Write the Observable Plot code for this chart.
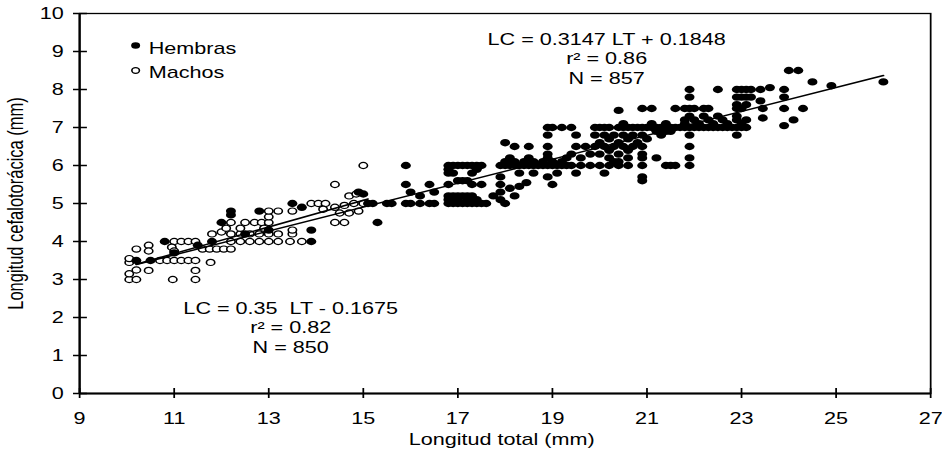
<!DOCTYPE html>
<html><head><meta charset="utf-8">
<script src="https://cdn.jsdelivr.net/npm/d3@7"></script>
<script src="https://cdn.jsdelivr.net/npm/@observablehq/plot@0.6"></script>
<style>
html,body{margin:0;padding:0;background:#fff;}
#chart{width:942px;height:451px;overflow:hidden;}
svg text{white-space:pre;}
</style>
</head><body><div id="chart"></div>
<script>
const xTicks = [9, 11, 13, 15, 17, 19, 21, 23, 25, 27];
const yTicks = [0, 1, 2, 3, 4, 5, 6, 7, 8, 9, 10];

const hembras = [
[10.2,3.5],[10.5,3.5],[10.8,4.0],[11.0,3.7],[11.5,3.9],[11.8,4.0],[12.0,4.5],[12.2,4.7],[12.2,4.8],[12.5,4.2],[12.8,4.8],[13.0,4.3],[13.5,5.0],[13.7,4.9],[13.9,4.3],[13.9,4.0],[14.9,5.3],[15.0,5.25],[15.1,5.0],[15.2,5.0],
[15.3,4.5],[15.5,5.0],[15.6,5.0],[15.9,5.0],[16.0,5.0],[16.2,5.0],[16.4,5.0],[16.5,5.0],[15.9,5.5],[16.4,5.5],[16.0,5.3],[16.5,5.3],[15.9,6.0],[16.2,5.2],
[16.8,5.0],[16.9,5.0],[17.0,5.0],[17.1,5.0],[17.2,5.0],[17.3,5.0],[17.4,5.0],[17.5,5.0],
[16.8,5.1],[17.0,5.1],[17.2,5.1],[17.4,5.1],
[16.8,5.2],[16.9,5.2],[17.0,5.2],[17.1,5.2],[17.2,5.2],[17.3,5.2],
[16.8,5.5],[17.3,5.5],[17.5,5.5],[17.0,5.6],[17.1,5.6],[17.2,5.6],
[16.8,5.8],[16.9,5.8],[17.3,5.8],[16.8,5.9],[17.4,5.9],
[16.8,6.0],[16.9,6.0],[17.0,6.0],[17.1,6.0],[17.2,6.0],[17.3,6.0],[17.4,6.0],[17.5,6.0],
[17.6,5.0],[17.75,5.2],[17.9,5.1],[17.9,5.3],[17.9,5.5],[17.9,5.7],[18.1,5.4],[18.3,5.45],[18.45,5.55],[18.0,5.0],[18.2,5.2],
[17.9,6.0],[18.0,6.0],[18.1,6.0],[18.2,6.0],[18.3,6.0],[18.4,6.0],[18.5,6.0],[18.6,6.0],[18.7,6.0],[18.8,6.0],[18.9,6.0],[19.0,6.0],[19.1,6.0],[19.2,6.0],[19.3,6.0],[19.4,6.0],
[18.0,6.1],[18.2,6.1],[18.4,6.1],[18.6,6.1],[18.8,6.1],[19.0,6.1],[19.2,6.1],
[18.1,6.2],[18.5,6.2],[18.9,6.2],[19.3,6.2],
[18.3,5.8],[18.6,5.8],[19.1,5.8],[18.9,5.7],
[18.0,6.6],[18.2,6.5],[18.5,6.5],[18.9,7.0],[19.0,7.0],[19.2,7.0],[18.9,6.8],[18.9,6.5],[18.9,6.3],[19.4,7.0],[19.5,6.8],[19.5,6.5],[19.4,6.3],
[19.0,5.5],[19.5,5.8],
[19.9,7.0],[20.0,7.0],[20.1,7.0],[20.2,7.0],[20.4,7.0],[20.5,7.0],[20.6,7.0],[20.7,7.0],[20.8,7.0],[20.9,7.0],[21.0,7.0],[21.1,7.0],[21.2,7.0],[21.3,7.0],[21.4,7.0],[21.5,7.0],[21.6,7.0],[21.7,7.0],[21.8,7.0],[21.9,7.0],[22.0,7.0],[22.1,7.0],[22.2,7.0],[22.3,7.0],[22.4,7.0],[22.5,7.0],[22.6,7.0],[22.7,7.0],[22.8,7.0],[22.9,7.0],[23.0,7.0],[23.1,7.0],
[20.5,7.1],[21.1,7.1],[21.4,7.1],[21.8,7.1],[22.1,7.1],[22.4,7.1],[22.7,7.1],[23.0,7.1],
[21.8,7.2],[22.0,7.2],[22.3,7.2],[22.6,7.2],[22.9,7.2],[23.1,7.2],
[21.9,7.3],[22.2,7.3],[22.5,7.3],[22.9,7.3],
[20.9,7.5],[21.1,7.5],[21.6,7.5],[21.8,7.5],[21.9,7.5],[22.0,7.5],[22.2,7.5],[22.3,7.5],[22.9,7.5],[23.0,7.5],
[20.4,7.45],[22.9,7.6],[23.1,7.6],
[21.9,7.8],[22.9,7.8],[23.0,7.8],[23.1,7.8],[23.2,7.8],
[21.9,8.0],[22.5,8.0],[22.9,8.0],[23.0,8.0],[23.1,8.0],[23.2,8.0],[23.4,8.0],[23.6,8.05],[23.4,7.7],
[21.2,6.9],[21.4,6.9],[21.5,6.9],
[19.9,6.8],[20.1,6.8],[20.3,6.8],[20.5,6.8],[20.7,6.8],[20.9,6.8],[21.3,6.8],[21.9,6.8],[22.9,6.8],
[20.2,6.7],[20.6,6.7],[21.0,6.7],
[20.0,6.6],[20.4,6.6],[20.8,6.6],
[19.7,6.5],[19.9,6.5],[20.1,6.5],[20.3,6.5],[20.5,6.5],[20.7,6.5],[20.9,6.5],[21.9,6.5],
[20.2,6.4],[20.6,6.4],
[19.8,6.3],[20.0,6.3],[20.4,6.3],[20.9,6.3],
[19.6,6.2],[20.2,6.2],[20.6,6.2],[20.9,6.2],[21.2,6.2],[21.9,6.2],
[20.3,6.1],[20.4,6.1],
[19.6,6.0],[19.8,6.0],[20.0,6.0],[20.2,6.0],[20.4,6.0],[20.6,6.0],[20.9,6.0],[21.4,6.0],[21.5,6.0],[21.6,6.0],[21.9,6.0],
[20.1,5.8],[20.9,5.7],[20.9,5.6],
[23.9,8.0],[23.9,7.8],[24.0,8.5],[24.2,8.5],[24.5,8.2],[24.9,8.1],[26.0,8.2],[23.9,7.5],[24.3,7.5],[24.1,7.2],[23.9,7.05],[23.45,7.5],[23.45,7.25]
];

const machos = [
[10.05,3.0],[10.05,3.15],[10.2,3.0],[10.2,3.25],[10.46,3.24],[10.97,3.0],[11.45,3.24],[11.45,3.0],[11.77,3.45],
[10.05,3.45],[10.05,3.55],[10.7,3.5],[10.85,3.5],[11.0,3.5],[11.15,3.5],[11.3,3.5],[11.45,3.5],
[10.2,3.8],[10.46,3.9],[10.46,3.75],
[11.0,4.0],[11.15,4.0],[11.3,4.0],[11.45,4.0],[10.95,3.85],[11.0,3.75],[11.6,3.8],[11.75,3.8],[11.9,3.8],[12.05,3.8],[12.2,3.8],
[12.2,4.0],[12.4,4.0],[12.6,4.0],[12.8,4.0],[13.0,4.0],[13.2,4.0],[13.45,4.0],[13.7,4.0],
[11.8,4.2],[12.0,4.25],[12.2,4.2],[12.4,4.2],[12.6,4.2],[12.8,4.2],[13.0,4.2],[13.2,4.2],[13.5,4.2],
[12.1,4.35],[12.4,4.35],[12.9,4.35],[13.5,4.3],
[12.2,4.5],[12.5,4.5],[12.7,4.5],[12.85,4.5],[13.0,4.5],[14.4,4.5],[14.6,4.5],
[13.0,4.65],[13.0,4.8],[13.2,4.8],[13.5,4.8],
[13.9,5.0],[14.05,5.0],[14.2,5.0],[14.15,4.85],[14.4,4.9],[14.6,4.95],[14.8,5.0],[14.5,4.75],[14.7,4.75],[14.9,4.8],
[14.4,5.5],[14.7,5.2],[15.0,6.0],[15.0,5.0],[14.85,5.25]
];

const fitHembras = {slope: 0.3147, intercept: 0.1848, from: 10.2, to: 26.0};
const fitMachos = {slope: 0.35, intercept: -0.1675, from: 10.2, to: 15.1};
const eqHembras = ["LC = 0.3147 LT + 0.1848", "r² = 0.86", "N = 857"];
const eqMachos = ["LC = 0.35  LT - 0.1675", "r² = 0.82", "N = 850"];
const legendLabels = ["Hembras", "Machos"];
const xLabel = "Longitud total (mm)";
const yLabel = "Longitud cefalotorácica (mm)";

// The reference is a horizontally stretched scan: draw on a narrower canvas and stretch it.
const W = 698, H = 451, OUTW = 942;
const mL = 58.5, mR = 8.9, mT = 13, mB = 58;
const plotW = W - mL - mR, plotH = H - mT - mB;

const lineFor = f => [f.from, f.to];

const svg = Plot.plot({
  width: W, height: H,
  marginLeft: mL, marginRight: mR, marginTop: mT, marginBottom: mB,
  style: {fontFamily: "'Liberation Sans', Arial, sans-serif", fontSize: "16px", color: "#000", background: "#fff"},
  x: {domain: [9, 27]},
  y: {domain: [0, 10]},
  marks: [
    Plot.dot(machos, {x: d => d[0], y: d => d[1], r: 3.1, stroke: "#000", fill: "#fff", strokeWidth: 1.2}),
    Plot.dot(hembras, {x: d => d[0], y: d => d[1], r: 3.7, fill: "#000"}),
    Plot.line(lineFor(fitHembras), {x: d => d, y: d => fitHembras.slope * d + fitHembras.intercept, stroke: "#000", strokeWidth: 1.5}),
    Plot.line(lineFor(fitMachos), {x: d => d, y: d => fitMachos.slope * d + fitMachos.intercept, stroke: "#000", strokeWidth: 1.5}),
    Plot.frame({stroke: "#000", strokeWidth: 1.3}),
    Plot.ruleX([9], {stroke: "#000", strokeWidth: 1.6}),
    Plot.ruleY([0], {stroke: "#000", strokeWidth: 2}),
    Plot.axisX({ticks: xTicks, tickSize: 5, tickPadding: 14, tickFormat: d => String(d), label: null, fontSize: 16, strokeWidth: 1.3}),
    Plot.tickX(xTicks, {x: d => d, insetTop: plotH - 5, stroke: "#000", strokeWidth: 1.3}),
    Plot.axisY({ticks: yTicks, tickSize: 4.4, tickPadding: 7.4, tickFormat: d => String(d), label: null, fontSize: 16, strokeWidth: 1.5}),
    Plot.tickY(yTicks, {y: d => d, insetRight: plotW - 5.9, stroke: "#000", strokeWidth: 1.5}),
    Plot.text([eqHembras.join("\n")], {frameAnchor: "top-left", dx: 390.5, dy: 18, textAnchor: "middle", lineAnchor: "top", lineHeight: 1.2, fontSize: 16, fill: "#000"}),
    Plot.text([eqMachos.join("\n")], {frameAnchor: "top-left", dx: 156.4, dy: 287, textAnchor: "middle", lineAnchor: "top", lineHeight: 1.2, fontSize: 16, fill: "#000"}),
    Plot.dot([legendLabels[0]], {frameAnchor: "top-left", dx: 41.5, dy: 32, r: 3.3, fill: "#000"}),
    Plot.dot([legendLabels[1]], {frameAnchor: "top-left", dx: 41.5, dy: 57, r: 2.8, stroke: "#000", fill: "#fff", strokeWidth: 1.2}),
    Plot.text([legendLabels[0]], {frameAnchor: "top-left", dx: 51.2, dy: 29, textAnchor: "start", fontSize: 16, fill: "#000"}),
    Plot.text([legendLabels[1]], {frameAnchor: "top-left", dx: 51.2, dy: 53, textAnchor: "start", fontSize: 16, fill: "#000"}),
    Plot.text([xLabel], {frameAnchor: "bottom", dx: -2.6, dy: 51, fontSize: 16, fill: "#000"}),
    Plot.text([yLabel], {frameAnchor: "left", dx: -47.4, rotate: -90, textAnchor: "middle", fontSize: 16.5, fill: "#000"})
  ]
});

svg.setAttribute("width", OUTW);
svg.setAttribute("height", H);
svg.setAttribute("preserveAspectRatio", "none");
svg.style.width = OUTW + "px";
svg.style.height = H + "px";
svg.style.maxWidth = "none";
document.getElementById("chart").appendChild(svg);
</script>
</body></html>
